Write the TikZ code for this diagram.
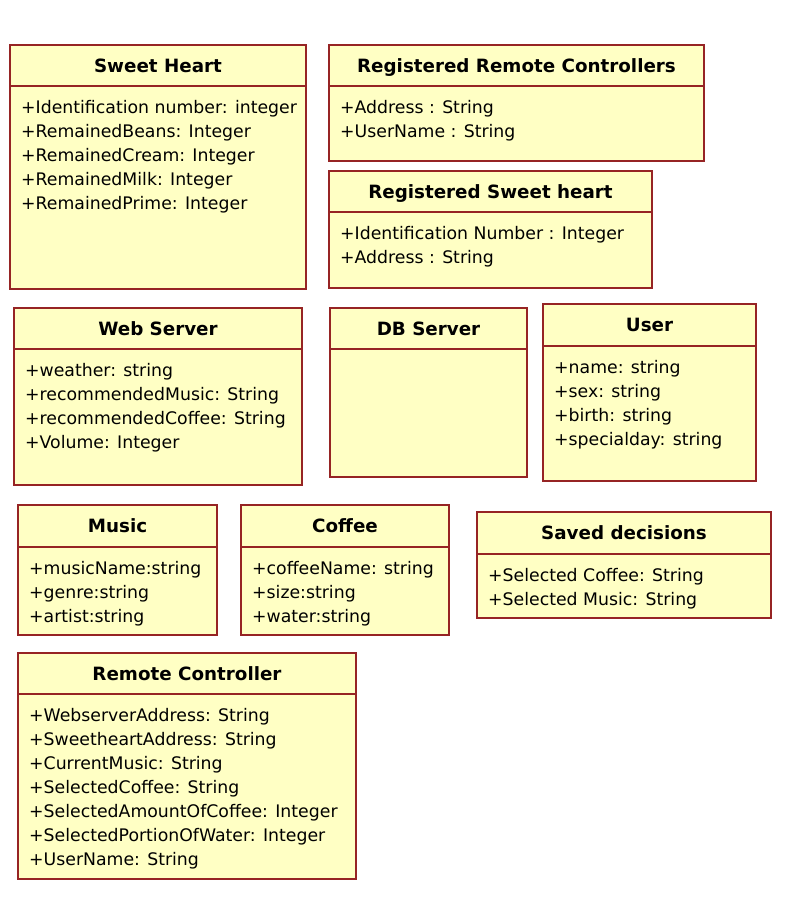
\documentclass[tikz,border=0pt]{standalone}
\usepackage{fontspec}
\setmainfont{DejaVu Sans}
\definecolor{umlfill}{RGB}{255,255,196}
\definecolor{umlline}{RGB}{150,36,36}
\tikzset{
  classbox/.style={draw=umlline, fill=umlfill, line width=1.6pt},
  sepline/.style={draw=umlline, line width=1.6pt},
  titletext/.style={font=\fontsize{18.3}{20}\selectfont\bfseries, anchor=base, inner sep=0pt},
  attrtext/.style={font=\fontsize{17.3}{24}\selectfont, anchor=base west, inner sep=0pt},
}
% #1 name, #2 left, #3 top, #4 right, #5 header bottom, #6 bottom, #7 title, #8 attrs
\newcommand{\umlclass}[8]{%
  \path[classbox] (#2pt,-#3pt) rectangle (#4pt,-#6pt);
  \draw[sepline] (#2pt,-#5pt) -- (#4pt,-#5pt);
  \node[titletext] (#1-title) at ({(#2+#4)/2*1pt},{-(#3+27)*1pt}) {#7};
  \foreach \t [count=\i from 0] in {#8} {
    \node[attrtext] (#1-a\i) at ({(#2+11)*1pt},{-(#5+27+24*\i)*1pt}) {\t};
  }
}
\begin{document}
\begin{tikzpicture}[x=1pt,y=1pt]
\useasboundingbox[fill=white] (0,0) rectangle (797,-911);
\umlclass{sh}{10}{45}{306}{86}{289}{Sweet Heart}{%
+Identification number: integer,+RemainedBeans: Integer,+RemainedCream: Integer,+RemainedMilk: Integer,+RemainedPrime: Integer}
\umlclass{rrc}{329}{45}{704}{86}{161}{Registered Remote Controllers}{%
+Address : String,+UserName : String}
\umlclass{rsh}{329}{171}{652}{212}{288}{Registered Sweet heart}{%
+Identification Number : Integer,+Address : String}
\umlclass{ws}{14}{308}{302}{349}{485}{Web Server}{%
+weather: string,+recommendedMusic: String,+recommendedCoffee: String,+Volume: Integer}
\umlclass{db}{330}{308}{527}{349}{477}{DB Server}{}
\umlclass{user}{543}{304}{756}{346}{481}{User}{%
+name: string,+sex: string,+birth: string,+specialday: string}
\umlclass{music}{18}{505}{217}{547}{635}{Music}{%
+musicName:string,+genre:string,+artist:string}
\umlclass{coffee}{241}{505}{449}{547}{635}{Coffee}{%
+coffeeName: string,+size:string,+water:string}
\umlclass{saved}{477}{512}{771}{554}{618}{Saved decisions}{%
+Selected Coffee: String,+Selected Music: String}
\umlclass{rc}{18}{653}{356}{694}{879}{Remote Controller}{%
+WebserverAddress: String,+SweetheartAddress: String,+CurrentMusic: String,+SelectedCoffee: String,+SelectedAmountOfCoffee: Integer,+SelectedPortionOfWater: Integer,+UserName: String}
\end{tikzpicture}
\end{document}
